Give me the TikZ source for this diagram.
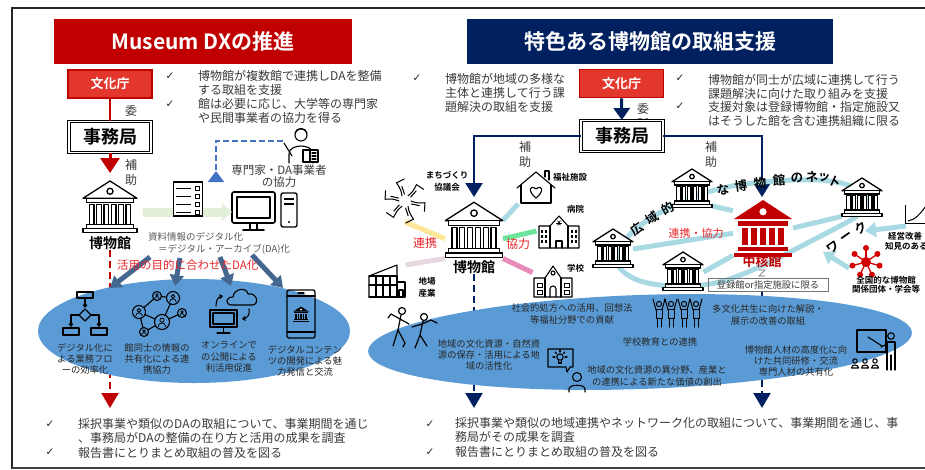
\documentclass[tikz,border=0pt]{standalone}
\usepackage{fontspec}
\setmainfont{Noto Sans CJK JP}[BoldFont={Noto Sans CJK JP Bold}]
\newfontfamily\tickfont{DejaVu Sans}
\usetikzlibrary{arrows.meta,positioning,calc,shapes.geometric}

\definecolor{dxred}{HTML}{C00000}
\definecolor{agred}{HTML}{E3372E}
\definecolor{dxnavy}{HTML}{002060}
\definecolor{ovalblue}{HTML}{5B9BD5}
\definecolor{arrowslate}{HTML}{43678E}
\definecolor{txt}{HTML}{3A3A3A}
\definecolor{hotred}{HTML}{E8262B}
\definecolor{molred}{HTML}{D40000}
\definecolor{palegreen}{HTML}{E2F0D9}
\definecolor{linkblue}{HTML}{A9DAE4}
\definecolor{dashblue}{HTML}{4472C4}
\definecolor{yel}{HTML}{FFE699}
\definecolor{mauve}{HTML}{E8D6E1}
\definecolor{mint}{HTML}{6DE49B}
\definecolor{rose}{HTML}{E88BBB}

\tikzstyle{titlebox} = [text=white, font=\bfseries\fontsize{21}{24}\selectfont, minimum height=45, inner sep=0]
\tikzstyle{agency}   = [draw=dxred, line width=1.6, fill=agred, text=white, font=\bfseries\fontsize{13}{15}\selectfont, minimum width=84, minimum height=28, inner sep=0]
\tikzstyle{office}   = [draw, double, double distance=1.4, line width=0.9, fill=white, font=\bfseries\fontsize{18}{20}\selectfont, minimum width=82, minimum height=31, inner sep=0]
\tikzstyle{note}     = [anchor=west, align=left, text=txt, font=\fontsize{12}{14}\selectfont, inner sep=0]
\tikzstyle{chk}      = [font=\tickfont\fontsize{10.5}{10.5}\selectfont, text=black!85, inner sep=0]
\tikzstyle{vlabel}   = [align=center, text=txt, font=\fontsize{12}{15}\selectfont, inner sep=0]
\tikzstyle{hallname} = [font=\bfseries\fontsize{14}{16}\selectfont, inner sep=0]
\tikzstyle{tag}      = [align=center, font=\bfseries\fontsize{8.5}{12}\selectfont, inner sep=0]
\tikzstyle{ovaltext} = [align=center, text=black!85, font=\fontsize{9.3}{11.4}\selectfont, inner sep=0]
\tikzstyle{redword}  = [text=hotred, font=\fontsize{12}{14}\selectfont, inner sep=0]
\tikzstyle{netchar}  = [font=\bfseries\fontsize{12.5}{13}\selectfont, inner sep=0]
\tikzstyle{spot}     = [inner sep=0, outer sep=0]
\tikzstyle{fatarrow} = [arrowslate, line width=5, -{Triangle[width=14pt,length=11pt]}]
\tikzstyle{bondline} = [line width=5]
\tikzstyle{icon}     = [line width=1.1, line join=round, line cap=round]

\tikzset{
  pics/museum/.style={code={
    \begin{scope}[line width=1.3, line join=round, fill=white]
      \filldraw (-25,-9) -- (0,-25) -- (25,-9) -- cycle;
      \draw (0,-15.5) circle (2.8);
      \filldraw (-22,-9) rectangle (22,-5);
      \foreach \cx in {-17,-10.2,-3.4,3.4,10.2,17}
        \filldraw (\cx-2.2,-3) rectangle (\cx+2.2,15);
      \filldraw (-22,15) rectangle (22,19);
      \filldraw (-25,19) rectangle (25,23);
    \end{scope}}},
  pics/solidmuseum/.style={code={
    \begin{scope}[fill=#1]
      \fill (-26,-8) -- (0,-25) -- (26,-8) -- cycle;
      \fill[white] (0,-14.5) circle (3.2);
      \fill (-22,-6) rectangle (22,-2);
      \foreach \cx in {-16,-8,0,8,16}
        \fill (\cx-2.6,0) rectangle (\cx+2.6,15);
      \fill (-22,17) rectangle (22,20.5);
      \fill (-26,22) rectangle (26,25.5);
    \end{scope}}}
}

\begin{document}
\begin{tikzpicture}[x=1pt,y=-1pt]
\useasboundingbox (0,0) rectangle (925,469);

% frame
\draw[line width=2, black!85] (925,8) -- (12,8) -- (12,469);
\draw[line width=1.5, black!75] (12,468) -- (925,468);

%%% Museum DX
\node[titlebox, fill=dxred, minimum width=298] (dxhead) at (203,41.5) {Museum DXの推進};
\node[agency] (bunkaL) at (110,84) {文化庁};
\node[vlabel] at (131,118) {委\\託};
\node[office] (jimuL) at (110,137) {事務局};
\draw[dxred, line width=2] (bunkaL) -- (jimuL);
\coordinate (hojoL) at (110,173);
\draw[dxred, line width=3, -{Triangle[width=19pt,length=15pt]}] (jimuL) -- (hojoL);
\node[vlabel] at (131,172) {補\\助};
\node[spot, minimum width=54, minimum height=52] (hallL) at (110,208) {};
\pic[scale=1.08] at (hallL) {museum};
\node[hallname] (hallLname) at (110,243) {博物館};

\node[chk] at (170,76) {✓};
\node[note] (dxnote1) at (198,83) {博物館が複数館で連携しDAを整備\\する取組を支援};
\node[chk] at (170,104) {✓};
\node[note] (dxnote2) at (198,111) {館は必要に応じ、大学等の専門家\\や民間事業者の協力を得る};

% expert
\node[spot, minimum width=34, minimum height=34] (expert) at (300,141) {};
\begin{scope}[icon]
  \draw (301,135) circle (6);
  \draw (295,133) .. controls (296,127) and (306,127) .. (307,133);
  \draw (289,163) -- (289,154) .. controls (289,148) and (296,146) .. (301,146) .. controls (306,146) and (313,148) .. (313,154) -- (313,163);
  \filldraw[fill=white] (303,150) rectangle (318,162);
  \draw (310,150) -- (310,162);
  \draw (312,153) -- (316,153) (312,156) -- (316,156) (312,159) -- (316,159);
  \draw (284,143) -- (292,156);
\end{scope}
\node[vlabel, font=\fontsize{11.5}{12}\selectfont] (expertname) at (279,176) {専門家・DA事業者\\の協力};
\coordinate (datip) at (216,182);
\draw[dashblue, line width=2, dash pattern=on 6 off 3, -{Triangle[reversed,width=16pt,length=11pt]}] (expert.west) -| (datip);

% digitisation
\coordinate (greenstart) at (143,212);
\node[spot, draw, rounded corners=2, line width=1.6, minimum width=43, minimum height=31] (monitor) at (253.5,207.5) {};
\draw[palegreen, line width=9, -{Triangle[width=17pt,length=10pt]}] (greenstart) -- (greenstart -| monitor.west);
\node[spot, draw, fill=white, line width=1.1, minimum width=29, minimum height=34] (sheet) at (188,199) {};
\foreach \ly in {188,196,204,212} {
  \draw[line width=1] (176,\ly) -- (191,\ly);
  \draw[line width=0.9] (195,\ly-2) rectangle (199,\ly+2);
}
\begin{scope}[icon]
  \draw (237,197) rectangle (270,218);
  \draw[line width=1.4] (250,223) -- (250,229) (257,223) -- (257,229);
  \draw[line width=1.6] (243,230) -- (264,230);
\end{scope}
\node[spot, draw, rounded corners=2, line width=1.4, minimum width=16, minimum height=34] (tower) at (289,210) {};
\draw[line width=1.6] (284,199) -- (294,199) (284,204) -- (294,204);
\fill (289,222) circle (1.1);

\node[anchor=west, inner sep=0, text=black!65, font=\fontsize{9.5}{11}\selectfont] (daline1) at (148,237) {資料情報のデジタル化};
\node[anchor=west, inner sep=0, text=black!65, font=\fontsize{9.5}{11}\selectfont] (daline2) at (158,249) {＝デジタル・アーカイブ(DA)化};

\coordinate (dxfoot) at (110,408);
\draw[dxred, line width=2.2, dash pattern=on 7 off 4, -{Triangle[width=17pt,length=15pt]}] (hallLname) -- (dxfoot);

\node[ellipse, fill=ovalblue, minimum width=312, minimum height=104, inner sep=0] (ovalL) at (194,331) {};

\foreach \i/\sx/\sy/\ex/\ey in {1/150/257/110/288, 2/180/258/175/286, 3/220/257/231/286, 4/252/255/283/288} {
  \coordinate (da\i) at (\sx,\sy);
  \coordinate (use\i) at (\ex,\ey);
  \draw[fatarrow] (da\i) -- (use\i);
}
\node[redword, anchor=west, font=\fontsize{11.5}{13}\selectfont] (purpose) at (117,265) {活用の目的に合わせたDA化};

% flow chart
\begin{scope}[icon]
  \draw (77,292) rectangle (93,298);
  \draw[-{Straight Barb[length=2.5pt,width=4pt]}] (85,298) -- (85,308);
  \draw (85,309) -- (91,315) -- (85,321) -- (79,315) -- cycle;
  \draw[-{Straight Barb[length=2.5pt,width=4pt]}] (79,315) -- (71,315) -- (71,327);
  \draw[-{Straight Barb[length=2.5pt,width=4pt]}] (91,315) -- (99,315) -- (99,327);
  \draw (63,328) rectangle (79,335);
  \draw (91,328) rectangle (107,335);
\end{scope}
% museums sharing
\coordinate (pA) at (139,312);
\coordinate (pB) at (157,296);
\coordinate (pC) at (173,298);
\coordinate (pD) at (162,322);
\coordinate (pE) at (182,313);
\coordinate (pF) at (144,332);
\draw[icon] (pA) -- (pB) -- (pC) -- (pD) -- (pE) (pA) -- (pF) -- (pD) (pA) -- (pD);
\foreach \p/\r in {pA/6.5,pB/4.5,pC/6.5,pD/7.5,pE/4.5,pF/4.5} {
  \filldraw[icon, fill=ovalblue] (\p) circle (\r);
  \draw[line width=0.8] ($(\p)+(0,-0.25*\r)$) circle (0.28*\r);
  \draw[line width=0.8] ($(\p)+(-0.5*\r,0.62*\r)$) arc[start angle=180, end angle=360, radius=0.5*\r];
}
% online
\begin{scope}[icon]
  \draw[line width=1.4] (210,310) rectangle (237,327);
  \draw (213,313) rectangle (234,324);
  \draw (223.5,327) -- (223.5,332) (217,333) -- (230,333);
  \draw (232,305) .. controls (225,305) and (225,297) .. (233,297) .. controls (234,288) and (247,287) .. (248,294) .. controls (257,292) and (260,305) .. (252,305) -- cycle;
  \draw[-{Straight Barb[length=2.5pt,width=4pt]}] (216,306) .. controls (216,300) and (218,297) .. (223,296);
  \draw[-{Straight Barb[length=2.5pt,width=4pt]}] (249,309) .. controls (250,314) and (248,318) .. (242,319);
\end{scope}
% phone
\draw[icon, line width=1.3, rounded corners=2] (287,290) rectangle (315,338);
\draw[icon] (287,296) -- (315,296) (287,332) -- (315,332) (298,293) -- (304,293);
\pic[scale=0.3] at (301,314) {solidmuseum=black};

\node[ovaltext] at (85,359) {デジタル化に\\よる業務フロ\\ーの効率化};
\node[ovaltext] at (157,359) {館同士の情報の\\共有化による連\\携協力};
\node[ovaltext] at (229,357) {オンラインで\\の公開による\\利活用促進};
\node[ovaltext] at (305,361) {デジタルコンテン\\ツの開発による魅\\力発信と交流};

\node[chk] at (50,424) {✓};
\node[note] (dxreport) at (78,431) {採択事業や類似のDAの取組について、事業期間を通じ\\、事務局がDAの整備の在り方と活用の成果を調査};
\node[chk] at (50,452) {✓};
\node[note] (dxspread) at (78,453) {報告書にとりまとめ取組の普及を図る};

%%% regional support
\node[titlebox, fill=dxnavy, minimum width=366] (sphead) at (650,41.5) {特色ある博物館の取組支援};
\node[chk] at (417,78) {✓};
\node[note] (spnoteL) at (445,93) {博物館が地域の多様な\\主体と連携して行う課\\題解決の取組を支援};
\node[agency] (bunkaR) at (621.5,83.5) {文化庁};
\node[vlabel] at (643,116) {委\\託};
\node[office] (jimuR) at (622,136) {事務局};
\draw[dxnavy, line width=3, -{Triangle[width=16pt,length=12pt]}] (bunkaR) -- (jimuR);
\node[chk] at (680,78) {✓};
\node[note] (spnoteR1) at (708,86.5) {博物館が同士が広域に連携して行う\\課題解決に向けた取り組みを支援};
\node[chk] at (680,106) {✓};
\node[note] (spnoteR2) at (708,113.5) {支援対象は登録博物館・指定施設又\\はそうした館を含む連携組織に限る};

\coordinate (tipL) at (474,197);
\coordinate (tipR) at (762,197);
\draw[dxnavy, line width=2.2, -{Triangle[width=17pt,length=14pt]}] (jimuR.west) -| (tipL);
\draw[dxnavy, line width=2.2, -{Triangle[width=17pt,length=14pt]}] (jimuR.east) -| (tipR);
\node[vlabel] at (525,154) {補\\助};
\node[vlabel] at (711,154) {補\\助};

% local partners
\node[spot, minimum width=58, minimum height=55] (hallR) at (474,231) {};
\node[spot, minimum width=48, minimum height=42] (hands) at (405,201) {};
\node[spot, minimum width=36, minimum height=32] (house) at (536,188) {};
\node[spot, minimum width=43, minimum height=35] (hosp) at (558,231) {};
\node[spot, minimum width=41, minimum height=34] (school) at (553,280) {};
\node[spot, minimum width=37, minimum height=32] (factory) at (387,281) {};
\draw[bondline, yel] (hands.south) -- (hallR.195);
\draw[bondline, mauve] (factory.north east) -- (hallR.south west);
\draw[bondline, linkblue] (hallR.20) -- (house.south west);
\draw[bondline, mint] (hallR.-15) -- (hosp.west);
\draw[bondline, rose] (hallR.south east) -- (school.160);
\pic[scale=1.15] at (hallR) {museum};
\node[hallname] (hallRname) at (474,267) {博物館};

% hands joined in a ring
\foreach \a in {0,60,...,300} {
  \draw[icon, line width=1] ($(hands)+(\a:6)$) .. controls ($(hands)+(\a+10:12)$) .. ($(hands)+(\a+5:20)$);
  \draw[icon, line width=1] ($(hands)+(\a+25:7)$) -- ($(hands)+(\a+18:15)$);
  \draw[icon, line width=1] ($(hands)+(\a+5:20)$) -- ($(hands)+(\a+28:22)$);
}
\begin{scope}[icon]
  % house
  \draw (517,188) -- (536,172) -- (555,188);
  \draw (521,185) -- (521,203) -- (551,203) -- (551,185);
  \draw (545,177) -- (545,171) -- (549,171) -- (549,180);
  \draw (536,198) .. controls (527,191) and (530,184) .. (536,189) .. controls (542,184) and (545,191) .. (536,198);
  % hospital
  \draw (539,248) -- (539,226) -- (550,226) -- (559,216) -- (568,226) -- (579,226) -- (579,248) -- cycle;
  \draw (550,226) -- (550,248) (568,226) -- (568,248);
  \foreach \a in {0,60,120} \draw[line width=0.8] (559,223) +(\a:2.5) -- +(\a+180:2.5);
  \draw (556,248) -- (556,241) -- (562,241) -- (562,248);
  % school
  \draw (534,297) -- (534,278) -- (545,278) -- (553,266) -- (561,278) -- (572,278) -- (572,297) -- cycle;
  \draw (545,278) -- (545,297) (561,278) -- (561,297);
  \draw (553,273) circle (2);
  \draw (550,297) -- (550,289) arc[start angle=180,end angle=360,radius=3] -- (556,297);
  % factory
  \draw (369,297) -- (369,276) -- (397,265) -- (397,276);
  \draw (369,276) -- (397,276);
  \draw (369,297) -- (405,297) -- (405,282) -- (397,282) (397,276) -- (397,297);
  \foreach \fx in {376,383,390} \draw (\fx,276) -- (\fx,297);
  \draw (369,285) -- (397,285);
  \draw (399,297) -- (399,290) -- (403,290) -- (403,297);
\end{scope}
\foreach \wx in {541,545,571,575} \foreach \wy in {230,235,240}
  \fill (\wx,\wy) rectangle +(2,2.5);
\foreach \wx in {537,564} \foreach \wy in {283,290}
  \draw[line width=0.8] (\wx,\wy) rectangle +(5,4);

\node[tag] (handsname) at (447,181) {まちづくり\\協議会};
\node[tag, anchor=west] (housename) at (553,177) {福祉施設};
\node[tag, anchor=west] (hospname) at (567,209) {病院};
\node[tag, anchor=west] (schoolname) at (567,268) {学校};
\node[tag] (factoryname) at (427,287) {地場\\産業};
\node[redword] at (425,243) {連携};
\node[redword] at (518,244) {協力};

% wide-area network
\node[spot, minimum width=40, minimum height=34] (mA) at (692,189) {};
\node[spot, minimum width=40, minimum height=38] (mB) at (613,249) {};
\node[spot, minimum width=41, minimum height=39] (mC) at (683,272) {};
\node[spot, minimum width=41, minimum height=37] (mD) at (862,198) {};
\node[spot, minimum width=60, minimum height=55] (core) at (763,228) {};
\draw[bondline, linkblue] plot[smooth cycle, tension=0.6] coordinates {(617,262) (627,238) (645,222) (665,210) (690,198) (715,190) (745,184) (793,180) (830,181) (855,188) (868,200) (858,215) (840,226) (813,240) (780,257) (743,274) (710,284) (670,286) (635,279)};
\draw[bondline, linkblue] (mA.south east) -- (core.150);
\draw[bondline, linkblue] (mB.east) -- (core.190);
\draw[bondline, linkblue] (mC.east) -- (core.south west);
\draw[bondline, linkblue] (mD.south west) -- (core.east);

\coordinate (adviceFrom) at (906,226);
\coordinate (adviceTo) at (865,231);
\draw[bondline, linkblue, -{Triangle[width=15pt,length=11pt]}] (adviceFrom) -- (adviceTo);
\node[spot, minimum width=34, minimum height=32] (assoc) at (866,262) {};
\coordinate (assocTo) at (823,252);
\draw[bondline, linkblue, -{Triangle[width=15pt,length=11pt]}] (assoc.200) -- (assocTo);

\foreach \m in {mA,mB,mC,mD} \pic[scale=0.8] at (\m) {museum};
\pic[scale=1.12] at (core) {solidmuseum=dxred};
\node[font=\bfseries\fontsize{13}{15}\selectfont, text=dxred, inner sep=0] (corename) at (762,262) {中核館};
\node[redword, font=\fontsize{11}{13}\selectfont] (linkname) at (696,233) {連携・協力};

\foreach \ch/\px/\py/\rot in {広/637/229/35, 域/652/218/33, 的/668/208/28, な/723/190/10, 博/741/186/8, 物/760/183/6, 館/779/180/4, の/797/178/2, ネ/812/177/-2, ッ/824/178/-12, ト/835/182/-24, ワ/833/247/35, ー/847/238/35, ク/861/228/35}
  \node[netchar, rotate=\rot] at (\px,\py) {\ch};

\node[draw=black!55, line width=0.6, text=txt, font=\fontsize{9.3}{11}\selectfont, minimum width=120, minimum height=13, inner sep=1] (limit) at (768,285) {登録館or指定施設に限る};
\draw[black!60, line width=0.6] (759,270) -- (765,270) -- (759,276) -- (765,276);

% partners outside the network
\draw[line width=1] (905,205) -- (905,223) -- (926,223);
\draw[line width=1] (908,221) .. controls (915,220) and (920,214) .. (926,206);
\node[tag, anchor=west] (advicename1) at (888,236) {経営改善};
\node[tag, anchor=west] (advicename2) at (885,246) {知見のある};
\foreach \a in {15,65,115,165,215,270,325} {
  \draw[molred, line width=1.3] (assoc.center) -- ++(\a:14);
  \fill[molred] (assoc.center) ++(\a:14) circle (3);
}
\fill[molred] (assoc.center) circle (5);
\node[tag, font=\bfseries\fontsize{8.5}{9.5}\selectfont] (assocname) at (886,285) {全国的な博物館\\関係団体・学会等};

% down to the survey
\coordinate (hallFoot) at (474,408);
\coordinate (coreFoot) at (762,408);
\draw[dxnavy, line width=2.5, dash pattern=on 7 off 4, -{Triangle[width=17pt,length=15pt]}] (hallRname) -- (hallFoot);
\draw[dxnavy, line width=2.5, dash pattern=on 7 off 4, -{Triangle[width=17pt,length=15pt]}] (limit.south -| coreFoot) -- (coreFoot);

\node[ellipse, fill=ovalblue, minimum width=544, minimum height=94, inner sep=0, rotate=2] (ovalR) at (640,342) {};

% dancing pair
\begin{scope}[icon, line width=1.2]
  \draw (402,311) circle (3.5);
  \draw (401,315) -- (398,330) (400,319) -- (391,314) -- (388,318) (400,319) -- (409,324) (398,330) -- (393,346) (398,330) -- (405,343) -- (403,347);
  \draw (424,317) circle (3.5);
  \draw (423,321) -- (420,335) (422,324) -- (412,327) (422,324) -- (431,320) -- (437,323) (420,335) -- (415,348) (420,335) -- (427,346);
\end{scope}
% pupils
\foreach \px in {659,671,684,696} {
  \draw[icon, line width=1] (\px,304) circle (2.6);
  \draw[icon, line width=1] (\px-3,310) -- (\px-6,299) (\px+3,310) -- (\px+6,299);
  \draw[icon, line width=1] (\px-3,309) -- (\px+3,309) -- (\px+3,318) -- (\px-3,318) -- cycle;
  \draw[icon, line width=1] (\px-2,318) -- (\px-2,327) (\px+2,318) -- (\px+2,327);
}
% idea
\begin{scope}[icon]
  \draw (548,349) -- (573,349) -- (573,367) -- (570,367) -- (567,372) -- (566,367) -- (548,367) -- cycle;
  \draw (560,357) circle (3.2);
  \draw (558.5,360) -- (558.5,363) -- (561.5,363) -- (561.5,360);
  \foreach \a in {180,225,270,315,0} \draw (560,357) ++(\a:5) -- ++(\a:2);
  \draw (577,377) circle (4.5);
  \draw (569,392) -- (569,389) .. controls (569,384) and (585,384) .. (585,389) -- (585,392);
\end{scope}
% training
\begin{scope}[icon]
  \draw (857,330) rectangle (886,352);
  \draw (868,337) -- (882,346);
  \draw (891,336) circle (3.3);
  \draw (887,370) -- (887,342) -- (895,342) -- (895,370) (891,355) -- (891,370);
  \draw (887,344) -- (881,347);
  \foreach \ax in {855,865,875} {
    \draw (\ax,361) circle (2.2);
    \draw (\ax-3.5,368) .. controls (\ax-3.5,364) and (\ax+3.5,364) .. (\ax+3.5,368) -- cycle;
  }
\end{scope}

\node[ovaltext] at (572,314) {社会的処方への活用、回想法\\等福祉分野での貢献};
\node[ovaltext] at (768,315) {多文化共生に向けた解説・\\展示の改善の取組};
\node[ovaltext] at (660,342) {学校教育との連携};
\node[ovaltext] at (489,355) {地域の文化資源・自然資\\源の保存・活用による地\\域の活性化};
\node[ovaltext] at (657,376) {地域の文化資源の異分野、産業と\\の連携による新たな価値の創出};
\node[ovaltext] at (796,361) {博物館人材の高度化に向\\けた共同研修・交流\\専門人材の共有化};

\node[chk] at (430,424) {✓};
\node[note] (spreport) at (455,430) {採択事業や類似の地域連携やネットワーク化の取組について、事業期間を通じ、事\\務局がその成果を調査};
\node[chk] at (430,452) {✓};
\node[note] (spspread) at (455,452) {報告書にとりまとめ取組の普及を図る};
\end{tikzpicture}
\end{document}
